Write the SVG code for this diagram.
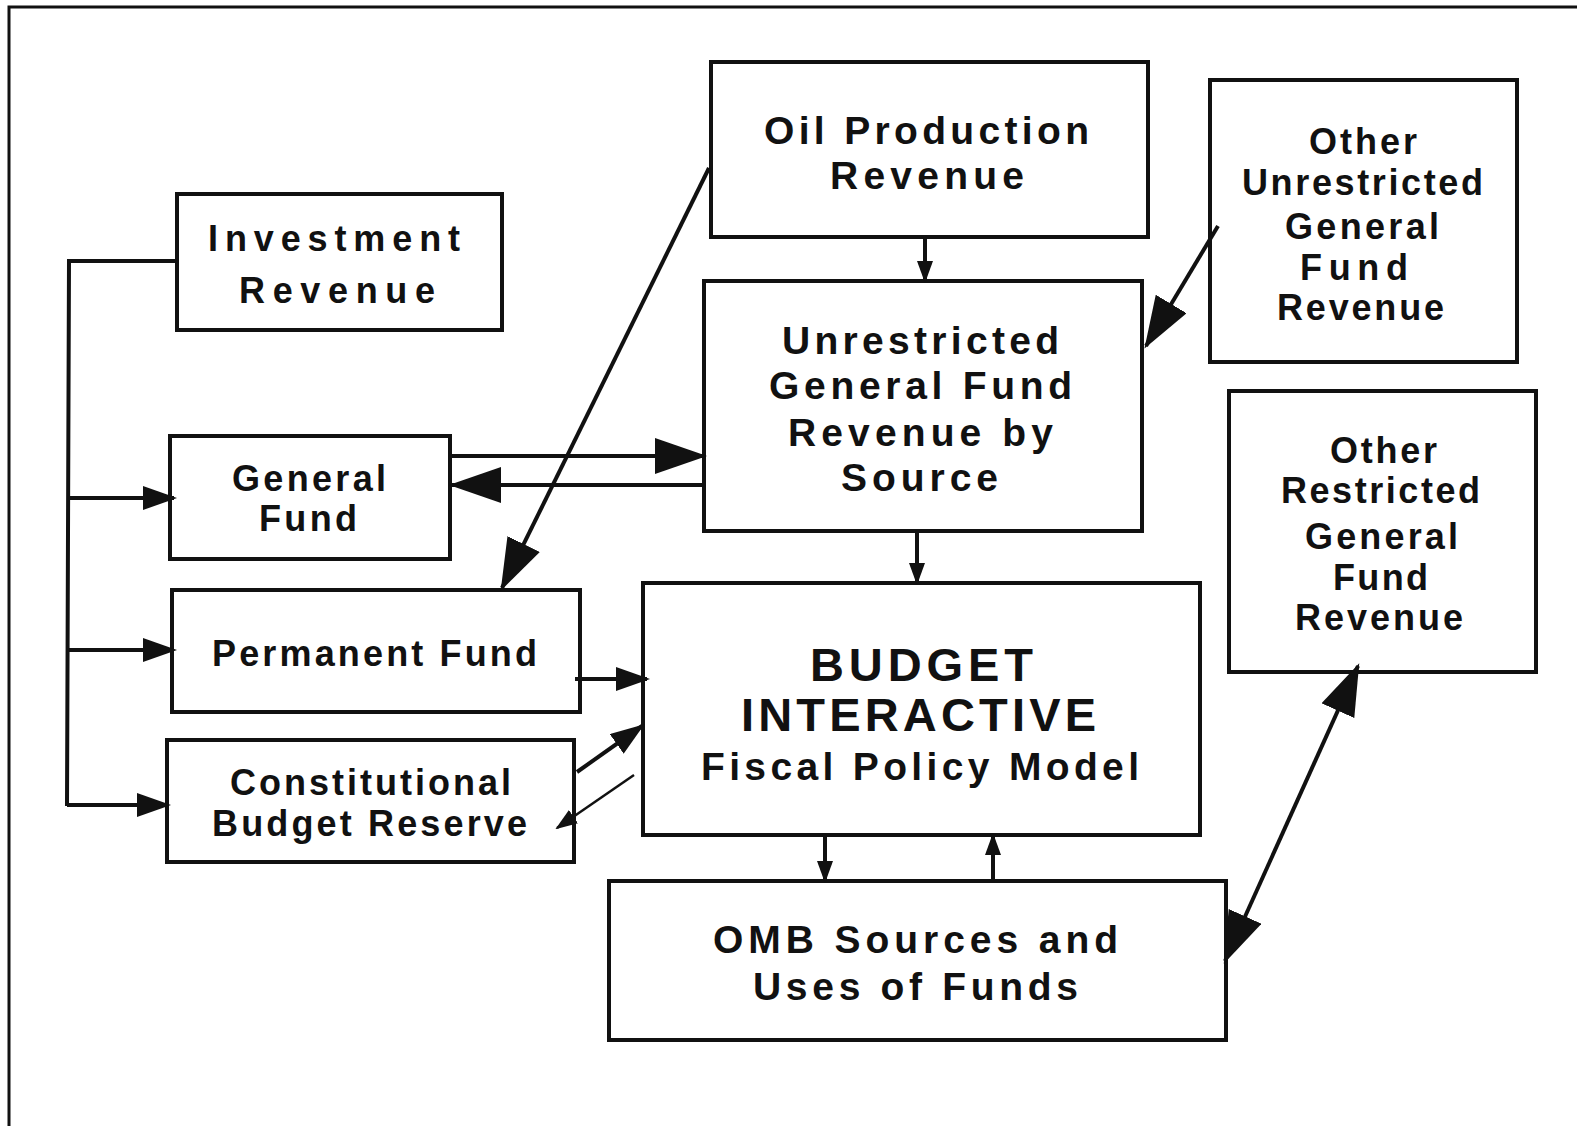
<svg xmlns="http://www.w3.org/2000/svg" width="1577" height="1126" viewBox="0 0 1577 1126">
<style>
.box{fill:#fff;stroke:#111;stroke-width:4}
.t{font-family:"Liberation Sans",Arial,Helvetica,sans-serif;font-weight:bold;font-size:36px;fill:#111;text-anchor:start}
.big{font-size:47px}
.mid{font-size:39px}
.c{fill:none;stroke:#111;stroke-width:4}
.thin{fill:none;stroke:#111;stroke-width:2.5}
</style>
<defs>
<marker id="aL" markerUnits="userSpaceOnUse" markerWidth="52" markerHeight="36" refX="49" refY="18" orient="auto"><path d="M0,0 L52,18 L0,36 z" fill="#111"/></marker>
<marker id="aM" markerUnits="userSpaceOnUse" markerWidth="34" markerHeight="24" refX="31" refY="12" orient="auto"><path d="M0,0 L34,12 L0,24 z" fill="#111"/></marker>
<marker id="aS" markerUnits="userSpaceOnUse" markerWidth="22" markerHeight="16" refX="20" refY="8" orient="auto"><path d="M0,0 L22,8 L0,16 z" fill="#111"/></marker>
<marker id="aLs" markerUnits="userSpaceOnUse" markerWidth="52" markerHeight="36" refX="3" refY="18" orient="auto"><path d="M52,0 L0,18 L52,36 z" fill="#111"/></marker>
</defs>
<path d="M9,1126 L9,7 L1577,7" fill="none" stroke="#111" stroke-width="3"/>
<g id="n-oil"><rect class="box" x="711" y="62" width="437" height="175"/>
<text class="t mid" x="764" y="144" textLength="325" lengthAdjust="spacing">Oil Production</text>
<text class="t mid" x="830" y="189" textLength="194" lengthAdjust="spacing">Revenue</text></g>
<g id="n-otherunr"><rect class="box" x="1210" y="80" width="307" height="282"/>
<text class="t" x="1309" y="154" textLength="108" lengthAdjust="spacing">Other</text>
<text class="t" x="1242" y="195" textLength="241" lengthAdjust="spacing">Unrestricted</text>
<text class="t" x="1285" y="239" textLength="154" lengthAdjust="spacing">General</text>
<text class="t" x="1300" y="280" textLength="108" lengthAdjust="spacing">Fund</text>
<text class="t" x="1277" y="320" textLength="167" lengthAdjust="spacing">Revenue</text></g>
<g id="n-invest"><rect class="box" x="177" y="194" width="325" height="136"/>
<text class="t" x="208" y="251" textLength="252" lengthAdjust="spacing">Investment</text>
<text class="t" x="239" y="303" textLength="196" lengthAdjust="spacing">Revenue</text></g>
<g id="n-unr"><rect class="box" x="704" y="281" width="438" height="250"/>
<text class="t mid" x="782" y="354" textLength="277" lengthAdjust="spacing">Unrestricted</text>
<text class="t mid" x="769" y="399" textLength="303" lengthAdjust="spacing">General Fund</text>
<text class="t mid" x="788" y="446" textLength="265" lengthAdjust="spacing">Revenue by</text>
<text class="t mid" x="841" y="491" textLength="157" lengthAdjust="spacing">Source</text></g>
<g id="n-otherres"><rect class="box" x="1229" y="391" width="307" height="281"/>
<text class="t" x="1330" y="463" textLength="107" lengthAdjust="spacing">Other</text>
<text class="t" x="1281" y="503" textLength="199" lengthAdjust="spacing">Restricted</text>
<text class="t" x="1305" y="549" textLength="153" lengthAdjust="spacing">General</text>
<text class="t" x="1333" y="590" textLength="95" lengthAdjust="spacing">Fund</text>
<text class="t" x="1295" y="630" textLength="168" lengthAdjust="spacing">Revenue</text></g>
<g id="n-gf"><rect class="box" x="170" y="436" width="280" height="123"/>
<text class="t" x="232" y="491" textLength="154" lengthAdjust="spacing">General</text>
<text class="t" x="259" y="531" textLength="98" lengthAdjust="spacing">Fund</text></g>
<g id="n-perm"><rect class="box" x="172" y="590" width="408" height="122"/>
<text class="t" x="212" y="666" textLength="325" lengthAdjust="spacing">Permanent Fund</text></g>
<g id="n-budget"><rect class="box" x="643" y="583" width="557" height="252"/>
<text class="t big" x="810" y="681" textLength="223" lengthAdjust="spacing">BUDGET</text>
<text class="t big" x="741" y="731" textLength="355" lengthAdjust="spacing">INTERACTIVE</text>
<text class="t mid" x="701" y="780" textLength="438" lengthAdjust="spacing">Fiscal Policy Model</text></g>
<g id="n-const"><rect class="box" x="167" y="740" width="407" height="122"/>
<text class="t" x="230" y="795" textLength="281" lengthAdjust="spacing">Constitutional</text>
<text class="t" x="212" y="836" textLength="315" lengthAdjust="spacing">Budget Reserve</text></g>
<g id="n-omb"><rect class="box" x="609" y="881" width="617" height="159"/>
<text class="t mid" x="713" y="953" textLength="405" lengthAdjust="spacing">OMB Sources and</text>
<text class="t mid" x="753" y="1000" textLength="325" lengthAdjust="spacing">Uses of Funds</text></g>
<g id="connectors">
<path class="c" d="M925,237 L925,281" marker-end="url(#aS)"/>
<path class="c" d="M709,168 L502,588" marker-end="url(#aL)"/>
<path class="c" d="M1218,226 L1146,346" marker-end="url(#aL)"/>
<path class="c" d="M452,456 L704,456" marker-end="url(#aL)"/>
<path class="c" d="M704,485 L452,485" marker-end="url(#aL)"/>
<path class="c" d="M917,531 L917,583" marker-end="url(#aS)"/>
<path class="c" d="M575,679 L647,679" marker-end="url(#aM)"/>
<path class="c" d="M577,772 L642,726" marker-end="url(#aM)"/>
<path class="thin" d="M634,775 L557,828" marker-end="url(#aS)"/>
<path class="c" d="M825,835 L825,881" marker-end="url(#aS)"/>
<path class="c" d="M993,881 L993,835" marker-end="url(#aS)"/>
<path class="c" d="M1358,666 L1225,961" marker-start="url(#aLs)" marker-end="url(#aL)"/>
<path class="c" d="M177,261 L69,261 L67,806"/>
<path class="c" d="M69,498 L174,498" marker-end="url(#aM)"/>
<path class="c" d="M68,650 L174,650" marker-end="url(#aM)"/>
<path class="c" d="M67,805 L168,805" marker-end="url(#aM)"/>
</g>
</svg>
